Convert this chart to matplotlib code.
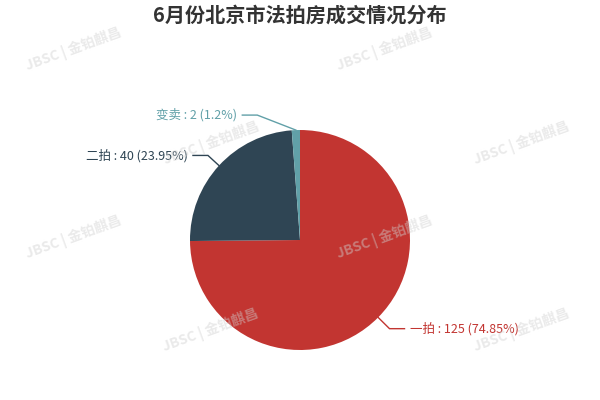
import matplotlib
matplotlib.use('Agg')
import matplotlib.pyplot as plt
import numpy as np

# data
categories = ['一拍', '二拍', '变卖']
counts = [125, 40, 2]
colors = ['#c23531', '#2f4554', '#61a0a8']
title = '6月份北京市法拍房成交情况分布'
watermark = 'JBSC | 金铂麒昌'

fonts = ['Noto Sans CJK SC', 'DejaVu Sans']
plt.rcParams['font.family'] = fonts

fig = plt.figure(figsize=(6, 4), dpi=100)
ax = fig.add_axes([0, 0, 1, 1])

# pie in pixel-like coords (y up)
cx, cy, r = 300, 160, 110
wedges, _ = ax.pie(counts, colors=colors, startangle=90, counterclock=False,
                   center=(cx, cy), radius=r, wedgeprops=dict(linewidth=0))
ax.set_xlim(0, 600)
ax.set_ylim(0, 400)
ax.set_aspect('equal')
ax.axis('off')

# labels with leader lines
total = sum(counts)
line_len = [16, 15, 15]
elbow_dx = [0, 0, -38]
for w, name, v, c, ll, dx in zip(wedges, categories, counts, colors, line_len, elbow_dx):
    ang = np.deg2rad((w.theta1 + w.theta2) / 2)
    x0, y0 = cx + r * np.cos(ang), cy + r * np.sin(ang)
    x1, y1 = cx + (r + ll) * np.cos(ang) + dx, cy + (r + ll) * np.sin(ang)
    side = 1 if np.cos(ang) >= 0 else -1
    x2 = x1 + side * 15
    ax.plot([x0, x1, x2], [y0, y1, y1], color=c, lw=1, solid_joinstyle='miter')
    pct = round(v / total * 100, 2)
    ax.text(x2 + side * 5, y1, f'{name} : {v} ({pct:g}%)', color=c, fontsize=9,
            ha='left' if side > 0 else 'right', va='center')

# watermarks
wm_pos = [(74, 351), (385, 351), (212, 257), (522, 257),
          (74, 163), (385, 163), (211, 70), (522, 70)]
for x, y in wm_pos:
    ax.text(x, y, watermark, fontsize=10, fontweight='bold', rotation=20,
            color='#d0d0d0', alpha=0.45, ha='center', va='center', zorder=5)

fig.text(0.5, 1 - 15 / 400, title, ha='center', va='center', fontsize=14.5,
         fontweight='bold', color='#333333')

fig.savefig('out.png', dpi=100)
